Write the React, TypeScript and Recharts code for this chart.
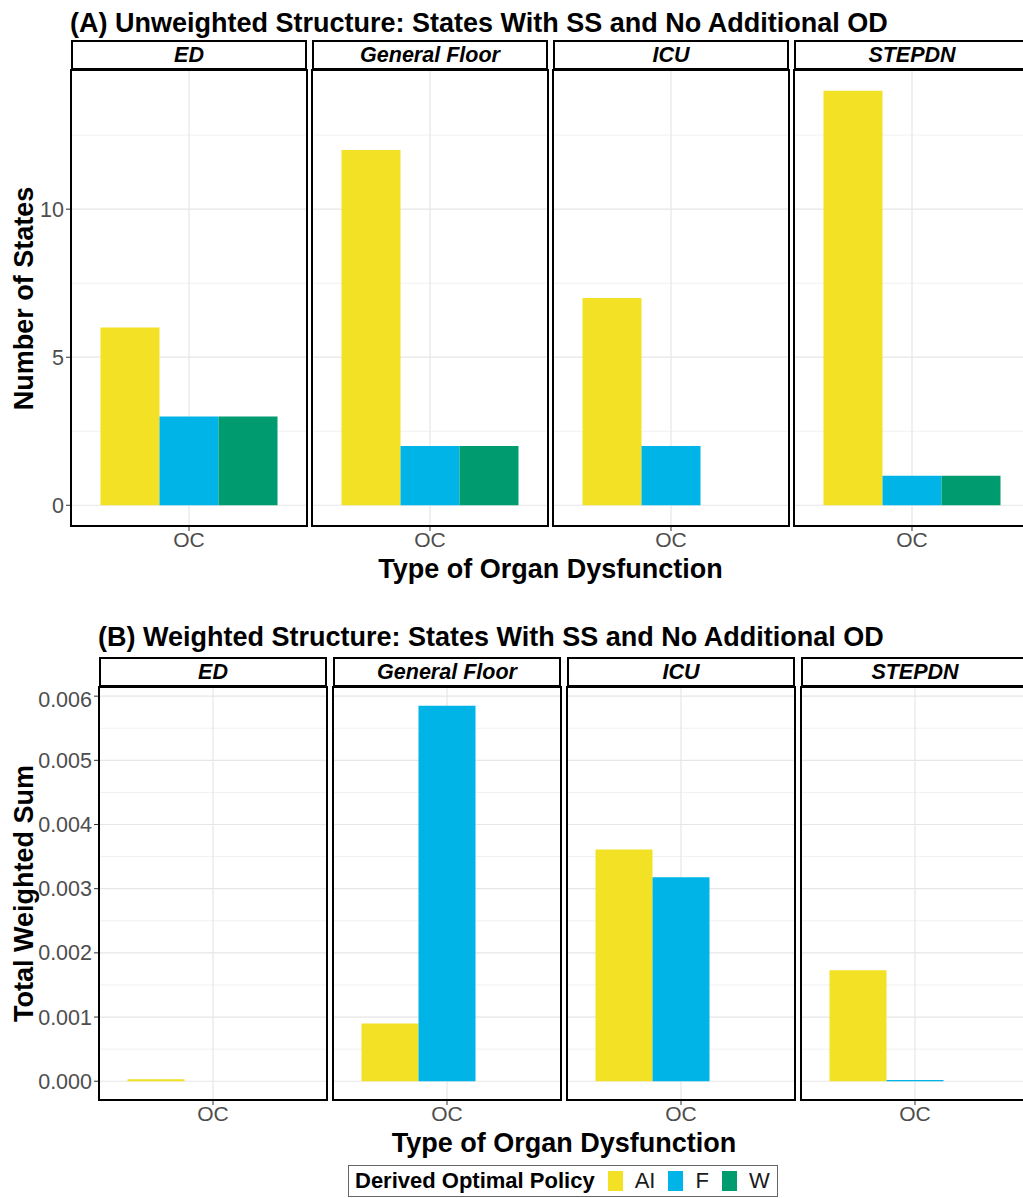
// 器官功能障碍状态分面柱状图 — (A) 未加权 / (B) 加权
// 每个分面一个 BarChart，分面条与边框用 div 叠加

import { BarChart, Bar, XAxis, YAxis, CartesianGrid } from 'recharts'

// ─────────────────────────────────────────────────────────────
// 数据
// ─────────────────────────────────────────────────────────────
const FACETS = ['ED', 'General Floor', 'ICU', 'STEPDN']
const ORGAN_TYPES = ['OC']
const POLICIES = ['AI', 'F', 'W']
const POLICY_COLORS = ['#F2E125', '#00B4E8', '#009B6E']

// (A) 状态数
const countAI = [6, 12, 7, 14]
const countF = [3, 2, 2, 1]
const countW = [3, 2, 0, 1]
const countTicks = [0, 5, 10]
const countMinor = [2.5, 7.5, 12.5]

// (B) 加权和
const weightAI = [0.00003, 0.0009, 0.00361, 0.00173]
const weightF = [0, 0.00585, 0.00318, 0.00002]
const weightW = [0, 0, 0, 0]
const weightTicks = [0, 0.001, 0.002, 0.003, 0.004, 0.005, 0.006]
const weightMinor = [0.0005, 0.0015, 0.0025, 0.0035, 0.0045, 0.0055]

const FONT = '"Liberation Sans", Arial, sans-serif'
const TITLE_SIZE = 27

function buildRows(ai: number[], f: number[], w: number[]) {
  return FACETS.map((_, i) => ORGAN_TYPES.map(t => ({ type: t, AI: ai[i], F: f[i], W: w[i] })))
}

// ggplot 默认 5% 扩展
function expand(series: number[][]): [number, number] {
  const max = Math.max(...series.flat())
  return [-max * 0.05, max * 1.05]
}

// 竖向网格线放在分类带中心（OC 处），画在柱子下面
const centerGrid = ({ offset }: { offset: { left: number; width: number } }) =>
  [offset.left + offset.width / 2]

interface PanelProps {
  title: string
  yTitle: string
  titleTop: number
  lefts: number[]
  width: number
  stripTop: number
  plotTop: number
  plotH: number
  axisW: number
  rows: Record<string, number | string>[][]
  domain: [number, number]
  ticks: number[]
  minor: number[]
  fmt: (v: number) => string
}

function Panel(p: PanelProps) {
  const stripH = p.plotTop - p.stripTop
  const xCenter = (p.lefts[0] + p.lefts[p.lefts.length - 1] + p.width) / 2
  return (
    <>
      <div style={{
        position: 'absolute', left: p.lefts[0] - 1, top: p.titleTop, fontSize: TITLE_SIZE,
        lineHeight: `${TITLE_SIZE}px`, fontWeight: 'bold', whiteSpace: 'nowrap', color: '#000',
      }}>{p.title}</div>

      <div style={{
        position: 'absolute', left: 24 - 200, top: p.plotTop + p.plotH / 2 - TITLE_SIZE / 2, width: 400,
        textAlign: 'center', fontSize: TITLE_SIZE, lineHeight: `${TITLE_SIZE}px`, fontWeight: 'bold',
        transform: 'rotate(-90deg)', whiteSpace: 'nowrap',
      }}>{p.yTitle}</div>

      {/* 行高收紧，避免与 OC 刻度文字的框重叠 */}
      <div style={{
        position: 'absolute', left: xCenter - 300, width: 600, top: p.plotTop + p.plotH + 33,
        textAlign: 'center', fontSize: TITLE_SIZE, lineHeight: '20px', fontWeight: 'bold',
      }}>Type of Organ Dysfunction</div>

      {FACETS.map((facet, i) => {
        const left = p.lefts[i]
        const aw = i === 0 ? p.axisW : 0
        return (
          <div key={facet}>
            <div style={{
              position: 'absolute', left, top: p.stripTop, width: p.width, height: stripH,
              boxSizing: 'border-box', border: '2px solid #000', background: '#fff',
              display: 'flex', alignItems: 'center', justifyContent: 'center',
              fontSize: 21.5, fontWeight: 'bold', fontStyle: 'italic',
            }}>{facet}</div>

            <div style={{ position: 'absolute', left: left - aw, top: p.plotTop }}>
              <BarChart
                width={p.width + aw}
                height={p.plotH + 32}
                data={p.rows[i]}
                margin={{ top: 0, right: 0, left: 0, bottom: 0 }}
                barGap={0}
                barCategoryGap="12.5%"
              >
                <CartesianGrid horizontalValues={p.minor} vertical={false} stroke="#F1F1F1" strokeWidth={1} />
                <CartesianGrid
                  horizontalValues={p.ticks}
                  verticalCoordinatesGenerator={centerGrid}
                  stroke="#E6E6E6"
                  strokeWidth={1.2}
                />
                <XAxis
                  dataKey="type"
                  height={32}
                  axisLine={false}
                  tickSize={5}
                  tickMargin={1}
                  tickLine={{ stroke: '#333' }}
                  tick={{ fontSize: 21, fill: '#4D4D4D', fontFamily: FONT }}
                />
                <YAxis
                  type="number"
                  domain={p.domain}
                  allowDataOverflow
                  ticks={p.ticks}
                  hide={aw === 0}
                  width={aw}
                  axisLine={false}
                  tickSize={5}
                  tickMargin={2}
                  tickLine={{ stroke: '#333' }}
                  tick={{ fontSize: 21.5, fill: '#4D4D4D', fontFamily: FONT }}
                  tickFormatter={p.fmt}
                />
                {POLICIES.map((k, j) => (
                  <Bar key={k} dataKey={k} fill={POLICY_COLORS[j]} isAnimationActive={false} />
                ))}
              </BarChart>
            </div>

            <div style={{
              position: 'absolute', left: left - 1, top: p.plotTop - 1, width: p.width + 2,
              height: p.plotH + 2, boxSizing: 'border-box', border: '2px solid #000',
              pointerEvents: 'none',
            }} />
          </div>
        )
      })}
    </>
  )
}

export default function App() {
  const countRows = buildRows(countAI, countF, countW)
  const weightRows = buildRows(weightAI, weightF, weightW)

  return (
    <div style={{
      position: 'absolute', left: 0, top: 0, width: 1023, height: 1198,
      overflow: 'hidden', background: '#fff', fontFamily: FONT, color: '#000',
    }}>
      <Panel
        title="(A) Unweighted Structure: States With SS and No Additional OD"
        yTitle="Number of States"
        titleTop={10}
        lefts={[71, 312, 553, 794]}
        width={236}
        stripTop={40}
        plotTop={70}
        plotH={456}
        axisW={71}
        rows={countRows}
        domain={expand([countAI, countF, countW])}
        ticks={countTicks}
        minor={countMinor}
        fmt={v => String(v)}
      />
      <Panel
        title="(B) Weighted Structure: States With SS and No Additional OD"
        yTitle="Total Weighted Sum"
        titleTop={624}
        lefts={[99, 333, 567, 801]}
        width={228}
        stripTop={657}
        plotTop={687}
        plotH={413}
        axisW={99}
        rows={weightRows}
        domain={expand([weightAI, weightF, weightW])}
        ticks={weightTicks}
        minor={weightMinor}
        fmt={v => v.toFixed(3)}
      />

      {/* 图例 */}
      <div style={{
        position: 'absolute', left: 348, top: 1165, width: 430, height: 32,
        boxSizing: 'border-box', border: '1.5px solid #666',
        display: 'flex', alignItems: 'center', paddingLeft: 6, fontSize: 22,
      }}>
        <span style={{ fontWeight: 'bold' }}>Derived Optimal Policy</span>
        {POLICIES.map((k, j) => (
          <span key={k} style={{ display: 'flex', alignItems: 'center' }}>
            <span style={{
              display: 'inline-block', width: 15, height: 20, marginLeft: 13,
              background: POLICY_COLORS[j],
            }} />
            <span style={{ marginLeft: 12, color: '#1a1a1a' }}>{k}</span>
          </span>
        ))}
      </div>
    </div>
  )
}
